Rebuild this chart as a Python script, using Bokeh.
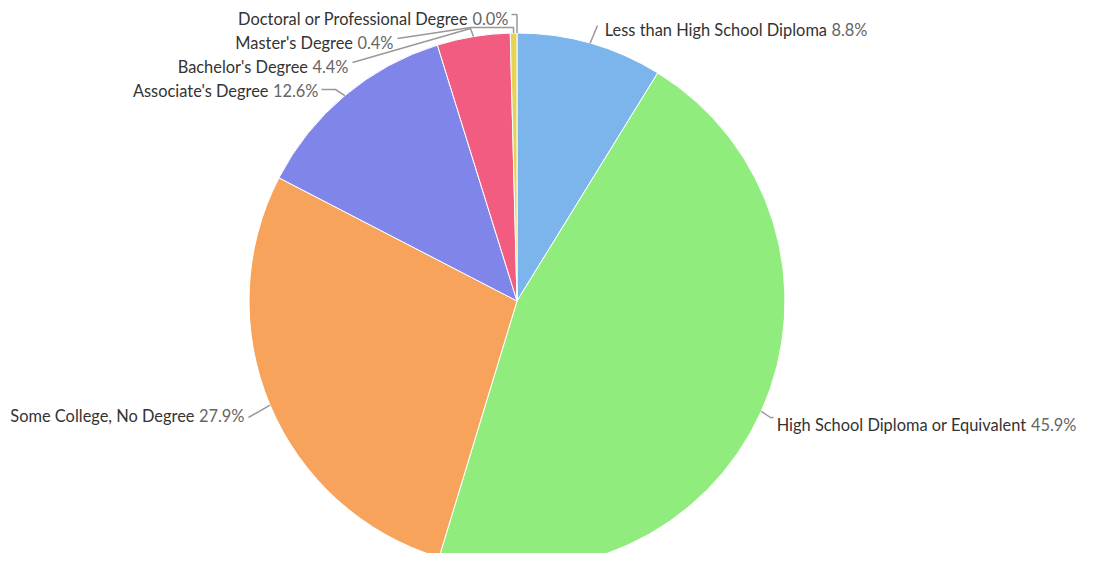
import math
from bokeh.plotting import figure
from bokeh.models import Range1d
from bokeh.embed import file_html
from bokeh.resources import INLINE
from bokeh.core.properties import value

# ---- data ----
categories = [
    "Less than High School Diploma",
    "High School Diploma or Equivalent",
    "Some College, No Degree",
    "Associate's Degree",
    "Bachelor's Degree",
    "Master's Degree",
    "Doctoral or Professional Degree",
]
shares = [8.8, 45.9, 27.9, 12.6, 4.4, 0.4, 0.0]
colors = ["#7cb5ec", "#90ed7d", "#f7a35c", "#8085e9", "#f15c80", "#e4d354", "#2b908f"]

# ---- layout (picture pixel coordinates) ----
W, H = 1078, 553
CX, CY, R = 516.5, 300.5, 268
FONT = "Lato"
FS = 16.4
TEXT_SHIFT = -8

# label right end x, baseline y, connector bend points
label_layout = [
    (867, 37, [(597, 25)]),
    (1076, 432, [(770, 417), (773, 417)]),
    (244, 423, [(248, 417)]),
    (318, 98, [(335, 89), (321, 89)]),
    (348, 74, [(470, 28), (352, 62)]),
    (393, 50, [(513, 27), (470, 27), (397, 38)]),
    (508, 26, [(516.5, 14), (511, 14)]),
]


def dx(sx):
    return sx


def dy(sy):
    return H - sy


p = figure(width=W, height=H, output_backend="svg", toolbar_location=None,
           x_range=Range1d(0, W), y_range=Range1d(0, H),
           x_axis_location=None, y_axis_location=None, min_border=0)
p.grid.visible = False
p.outline_line_color = None
p.background_fill_color = "white"
p.border_fill_color = "white"

total = sum(shares)
cum = 0.0
starts, ends, mids = [], [], []
for v in shares:
    f0 = cum / total
    cum += v
    f1 = cum / total
    starts.append(f0)
    ends.append(f1)
    mids.append((f0 + f1) / 2)

wx, wy, sa, ea, wc = [], [], [], [], []
for f0, f1, c, v in zip(starts, ends, colors, shares):
    if v <= 0:
        continue
    wx.append(dx(CX))
    wy.append(dy(CY))
    sa.append(math.pi / 2 - f1 * 2 * math.pi)
    ea.append(math.pi / 2 - f0 * 2 * math.pi)
    wc.append(c)

p.wedge(x=wx, y=wy, radius=R, start_angle=sa, end_angle=ea,
        direction="anticlock", fill_color=wc, line_color="white", line_width=1)

# connectors
xs, ys = [], []
for fm, (rx, by, bends) in zip(mids, label_layout):
    a = fm * 2 * math.pi
    ex = CX + R * math.sin(a)
    ey = CY - R * math.cos(a)
    pts = [(ex, ey)] + bends
    xs.append([dx(px) for px, _ in pts])
    ys.append([dy(py) for _, py in pts])
p.multi_line(xs=xs, ys=ys, line_color="#999999", line_width=1.5)

# labels
cw = {"0": 9.3, "1": 9.3, "2": 9.3, "3": 9.3, "4": 9.3, "5": 9.3, "6": 9.3,
      "7": 9.3, "8": 9.3, "9": 9.3, ".": 3.8, "%": 13.2}


def est_width(s):
    return sum(cw.get(ch, 8.0) for ch in s) * FS / 16.0


pct_text = [f"{v:.1f}%" for v in shares]
name_x, name_y, pct_x, pct_y = [], [], [], []
for t, (rx, by, _) in zip(pct_text, label_layout):
    pct_x.append(dx(rx))
    pct_y.append(dy(by + TEXT_SHIFT))
    name_x.append(dx(rx) - est_width(t) - 4)
    name_y.append(dy(by + TEXT_SHIFT))

p.text(x=name_x, y=name_y, text=categories, text_align="right",
       text_baseline="alphabetic", text_font=value(FONT),
       text_font_size=f"{FS}px", text_color="#333333")
p.text(x=pct_x, y=pct_y, text=pct_text, text_align="right",
       text_baseline="alphabetic", text_font=value(FONT),
       text_font_size=f"{FS}px", text_color="#666666")

open("out.html", "w").write(file_html(p, INLINE))
